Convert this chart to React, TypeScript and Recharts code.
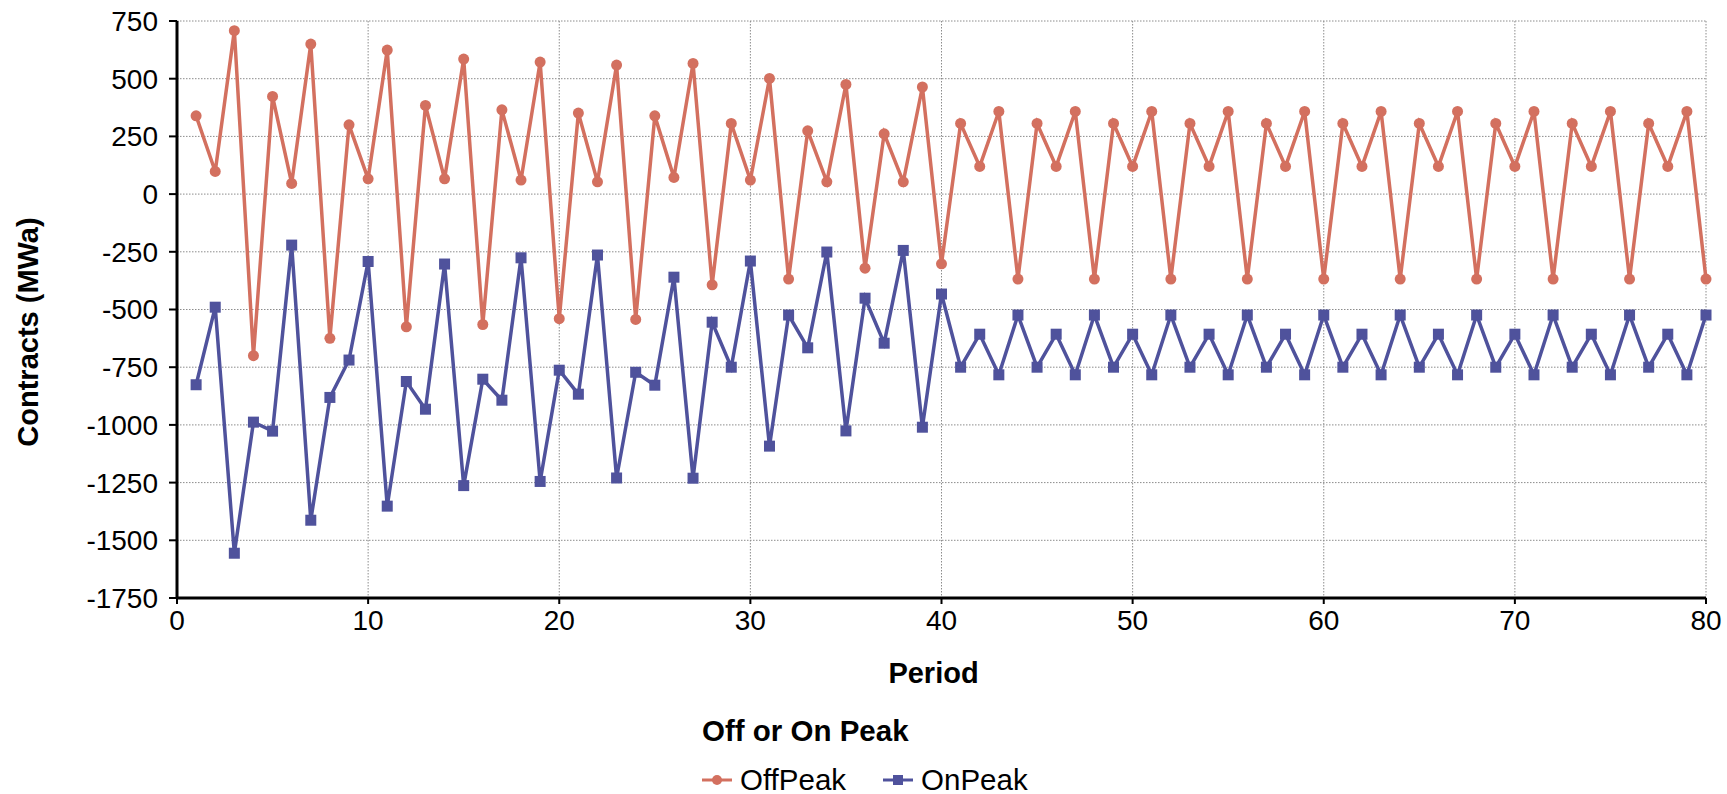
import { LineChart, Line, XAxis, YAxis, CartesianGrid, Legend, Label } from "recharts";

const periods = [
  1, 2, 3, 4, 5, 6, 7, 8, 9, 10, 11, 12, 13, 14, 15, 16, 17, 18, 19, 20,
  21, 22, 23, 24, 25, 26, 27, 28, 29, 30, 31, 32, 33, 34, 35, 36, 37, 38, 39, 40,
  41, 42, 43, 44, 45, 46, 47, 48, 49, 50, 51, 52, 53, 54, 55, 56, 57, 58, 59, 60,
  61, 62, 63, 64, 65, 66, 67, 68, 69, 70, 71, 72, 73, 74, 75, 76, 77, 78, 79, 80,
];

const offPeak = [
  339, 98, 708, -700, 423, 46, 650, -625, 300, 66, 624, -575, 384, 66, 585, -565, 365, 61, 572, -540,
  351, 53, 559, -543, 339, 72, 566, -393, 306, 61, 501, -368, 274, 53, 475, -321, 261, 53, 464, -302,
  306, 120, 358, -368, 306, 120, 358, -368, 306, 120, 358, -368, 306, 120, 358, -368, 306, 120, 358, -368,
  306, 120, 358, -368, 306, 120, 358, -368, 306, 120, 358, -368, 306, 120, 358, -368, 306, 120, 358, -368,
];

const onPeak = [
  -826, -490, -1556, -988, -1027, -221, -1413, -881, -719, -292, -1352, -812, -932, -303, -1263, -802, -893, -276, -1245, -763,
  -867, -264, -1230, -772, -828, -360, -1231, -555, -750, -290, -1092, -524, -666, -251, -1026, -451, -646, -244, -1010, -433,
  -750, -607, -783, -524, -750, -607, -783, -524, -750, -607, -783, -524, -750, -607, -783, -524, -750, -607, -783, -524,
  -750, -607, -783, -524, -750, -607, -783, -524, -750, -607, -783, -524, -750, -607, -783, -524, -750, -607, -783, -524,
];

const xTicks = [0, 10, 20, 30, 40, 50, 60, 70, 80];
const yTicks = [-1750, -1500, -1250, -1000, -750, -500, -250, 0, 250, 500, 750];

const OFF_COLOR = "#D3705F";
const ON_COLOR = "#4F529C";
const FONT = "'Liberation Sans', Arial, sans-serif";

const data = periods.map((p, i) => ({ period: p, OffPeak: offPeak[i], OnPeak: onPeak[i] }));

function SquareDot(props: any) {
  const { cx, cy, index } = props;
  if (cx == null || cy == null) return null;
  return <rect key={`sq-${index}`} x={cx - 5.5} y={cy - 5.5} width={11} height={11} fill={ON_COLOR} />;
}

function LegendBox() {
  const item = (name: string, color: string, square: boolean) => (
    <div style={{ display: "flex", alignItems: "center", marginRight: 37 }}>
      <svg width={30} height={14} style={{ marginRight: 8 }}>
        <line x1={0} y1={7} x2={30} y2={7} stroke={color} strokeWidth={3} />
        {square ? (
          <rect x={10} y={2} width={10} height={10} fill={color} />
        ) : (
          <circle cx={15} cy={7} r={5} fill={color} />
        )}
      </svg>
      <span>{name}</span>
    </div>
  );
  return (
    <div style={{ paddingLeft: 702, fontFamily: FONT, color: "#000", textAlign: "left" }}>
      <div style={{ fontSize: 29.5, fontWeight: "bold", lineHeight: "34px" }}>Off or On Peak</div>
      <div style={{ display: "flex", fontSize: 29.5, lineHeight: "34px", marginTop: 15 }}>
        {item("OffPeak", OFF_COLOR, false)}
        {item("OnPeak", ON_COLOR, true)}
      </div>
    </div>
  );
}

export default function App() {
  return (
    <div style={{ position: "absolute", left: 0, top: 0, background: "#fff" }}>
      <LineChart
        width={1727}
        height={794}
        data={data}
        margin={{ top: 21, right: 21, left: 0, bottom: 96 }}
        style={{ fontFamily: FONT }}
      >
        <CartesianGrid stroke="#8c8c8c" strokeWidth={1} strokeDasharray="1.5 1.5" />
        <XAxis
          dataKey="period"
          type="number"
          domain={[0, 80]}
          ticks={xTicks}
          interval={0}
          height={100}
          axisLine={{ stroke: "#000", strokeWidth: 3 }}
          tickLine={{ stroke: "#000", strokeWidth: 2 }}
          tickSize={6}
          tickMargin={6}
          tick={{ fontSize: 28, fill: "#000" }}
        >
          <Label
            value="Period"
            position="insideBottom"
            offset={15}
            dx={-8}
            style={{ fontSize: 29, fontWeight: "bold", fill: "#000" }}
          />
        </XAxis>
        <YAxis
          type="number"
          domain={[-1750, 750]}
          ticks={yTicks}
          interval={0}
          width={177}
          axisLine={{ stroke: "#000", strokeWidth: 3 }}
          tickLine={{ stroke: "#000", strokeWidth: 2 }}
          tickSize={8}
          tickMargin={11}
          tick={{ fontSize: 28, fill: "#000" }}
          label={{
            content: () => (
              <text
                x={28}
                y={332}
                transform="rotate(-90, 28, 332)"
                textAnchor="middle"
                dominantBaseline="central"
                style={{ fontSize: 29, fontWeight: "bold", fill: "#000", fontFamily: FONT }}
              >
                Contracts (MWa)
              </text>
            ),
          }}
        />
        <Legend
          layout="horizontal"
          verticalAlign="middle"
          align="center"
          wrapperStyle={{ top: 714, left: 0, width: 1727 }}
          content={() => <LegendBox />}
        />
        <Line
          type="linear"
          dataKey="OffPeak"
          stroke={OFF_COLOR}
          strokeWidth={3.5}
          dot={{ r: 5.5, fill: OFF_COLOR, stroke: "none" }}
          activeDot={false}
          isAnimationActive={false}
        />
        <Line
          type="linear"
          dataKey="OnPeak"
          stroke={ON_COLOR}
          strokeWidth={3.5}
          dot={<SquareDot />}
          activeDot={false}
          isAnimationActive={false}
        />
      </LineChart>
    </div>
  );
}
